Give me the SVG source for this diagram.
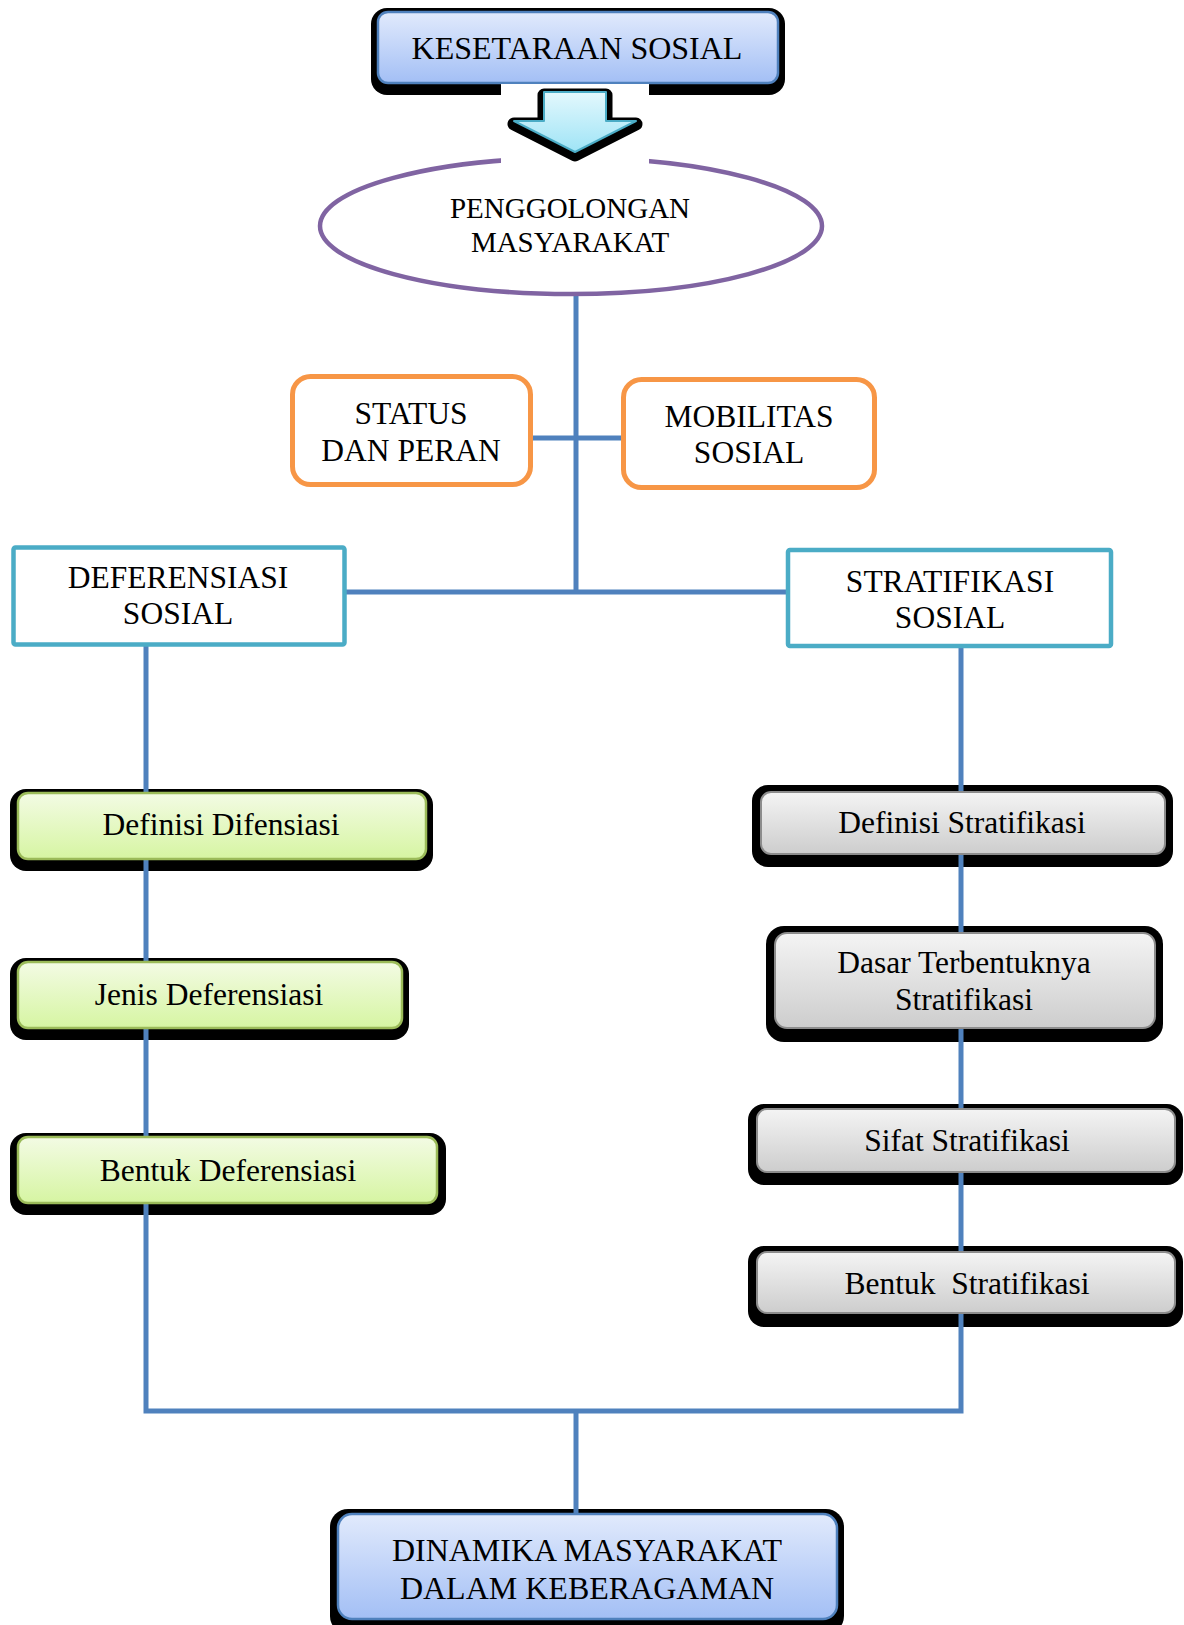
<svg xmlns="http://www.w3.org/2000/svg" width="1184" height="1625" viewBox="0 0 1184 1625">
<style>
text{font-family:"Liberation Serif","Times New Roman",serif;fill:#000;text-anchor:middle}
.t32{font-size:32px}
.t31{font-size:31.5px}
.t29{font-size:29px}
.sh{fill:#000}
.blue{fill:url(#gBlue);stroke:#4f81bd;stroke-width:2.5}
.green{fill:url(#gGreen);stroke:#9bbb59;stroke-width:2.5}
.gray{fill:url(#gGray);stroke:#8c8c8c;stroke-width:2}
.orange{fill:#fff;stroke:#f79646;stroke-width:5}
.teal{fill:#fff;stroke:#4bacc6;stroke-width:4.5}
.conn{fill:none;stroke:#4f81bd;stroke-width:5}
</style>
<defs>
<linearGradient id="gBlue" x1="0" y1="0" x2="0" y2="1"><stop offset="0" stop-color="#e1eafc"/><stop offset="1" stop-color="#a3bff5"/></linearGradient>
<linearGradient id="gGreen" x1="0" y1="0" x2="0" y2="1"><stop offset="0" stop-color="#f3fbe4"/><stop offset="1" stop-color="#d6f5a2"/></linearGradient>
<linearGradient id="gGray" x1="0" y1="0" x2="0" y2="1"><stop offset="0" stop-color="#f4f4f4"/><stop offset="1" stop-color="#cdcdcd"/></linearGradient>
<linearGradient id="gCyan" x1="0" y1="0" x2="0" y2="1"><stop offset="0" stop-color="#e3f8fd"/><stop offset="1" stop-color="#9fe4f6"/></linearGradient>
</defs>
<rect width="1184" height="1625" fill="#fff"/>

<g id="shadows">
<rect class="sh" x="371" y="8" width="414" height="87" rx="16"/>
<rect class="sh" x="10" y="789" width="423" height="82" rx="16"/>
<rect class="sh" x="10" y="958" width="399" height="82" rx="16"/>
<rect class="sh" x="10" y="1133" width="436" height="82" rx="16"/>
<rect class="sh" x="752" y="785" width="421" height="82" rx="16"/>
<rect class="sh" x="766" y="926" width="397" height="116" rx="18"/>
<rect class="sh" x="748" y="1104" width="435" height="81" rx="16"/>
<rect class="sh" x="748" y="1246" width="435" height="81" rx="16"/>
<rect class="sh" x="330" y="1509" width="514" height="125" rx="18"/>
</g>

<g id="connectors">
<path class="conn" d="M576,294 V592"/>
<path class="conn" d="M531,438 H624"/>
<path class="conn" d="M343,592 H788"/>
<path class="conn" d="M146,646 V1411 H961 V648"/>
<path class="conn" d="M576,1411 V1516"/>
</g>

<g id="n-kesetaraan">
<rect class="blue" x="378" y="12" width="400" height="71" rx="10"/>
<text class="t32" x="577" y="59">KESETARAAN SOSIAL</text>
</g>

<g id="n-penggolongan">
<ellipse cx="571" cy="226" rx="251" ry="68" fill="#fff" stroke="#8064a2" stroke-width="4.5"/>
<text class="t29" x="570" y="218">PENGGOLONGAN</text>
<text class="t29" x="570" y="252">MASYARAKAT</text>
</g>

<g id="arrow">
<rect x="501" y="84" width="148" height="80" fill="#fff"/>
<polygon points="544,92 606,92 606,121 636,121 575,152 514,121 544,121" fill="#000" stroke="#000" stroke-width="13" stroke-linejoin="round" transform="translate(0,3)"/>
<polygon points="544,92 606,92 606,121 636,121 575,152 514,121 544,121" fill="url(#gCyan)" stroke="#4bacc6" stroke-width="2" stroke-linejoin="round"/>
</g>

<g id="n-status">
<rect class="orange" x="292.5" y="376.5" width="238" height="108" rx="18"/>
<text class="t31" x="411" y="424">STATUS</text>
<text class="t31" x="411" y="461">DAN PERAN</text>
</g>

<g id="n-mobilitas">
<rect class="orange" x="623.5" y="379.5" width="251" height="108" rx="18"/>
<text class="t31" x="749" y="427">MOBILITAS</text>
<text class="t31" x="749" y="463">SOSIAL</text>
</g>

<g id="n-deferensiasi">
<rect class="teal" x="13.5" y="547.5" width="331" height="97" rx="2"/>
<text class="t31" x="178" y="588">DEFERENSIASI</text>
<text class="t31" x="178" y="624">SOSIAL</text>
</g>

<g id="n-stratifikasi">
<rect class="teal" x="788" y="550" width="323" height="96" rx="2"/>
<text class="t31" x="950" y="592">STRATIFIKASI</text>
<text class="t31" x="950" y="628">SOSIAL</text>
</g>

<g id="n-definisi-dif">
<rect class="green" x="18" y="793" width="408" height="66" rx="10"/>
<text class="t31" x="221" y="835">Definisi Difensiasi</text>
</g>

<g id="n-jenis-def">
<rect class="green" x="18" y="962" width="384" height="66" rx="10"/>
<text class="t31" x="209" y="1005">Jenis Deferensiasi</text>
</g>

<g id="n-bentuk-def">
<rect class="green" x="18" y="1137" width="419" height="66" rx="10"/>
<text class="t31" x="228" y="1181">Bentuk Deferensiasi</text>
</g>

<g id="n-definisi-strat">
<rect class="gray" x="761" y="792" width="404" height="62" rx="10"/>
<text class="t31" x="962" y="833">Definisi Stratifikasi</text>
</g>

<g id="n-dasar">
<rect class="gray" x="775" y="933" width="380" height="95" rx="12"/>
<text class="t31" x="964" y="973">Dasar Terbentuknya</text>
<text class="t31" x="964" y="1010">Stratifikasi</text>
</g>

<g id="n-sifat">
<rect class="gray" x="757" y="1109" width="418" height="63" rx="10"/>
<text class="t31" x="967" y="1151">Sifat Stratifikasi</text>
</g>

<g id="n-bentuk-strat">
<rect class="gray" x="757" y="1252" width="418" height="61" rx="10"/>
<text class="t31" x="967" y="1294" style="white-space:pre">Bentuk  Stratifikasi</text>
</g>

<g id="n-dinamika">
<rect class="blue" x="338" y="1514" width="499" height="105" rx="14"/>
<text class="t32" x="587" y="1561">DINAMIKA MASYARAKAT</text>
<text class="t32" x="587" y="1599">DALAM KEBERAGAMAN</text>
</g>
</svg>
